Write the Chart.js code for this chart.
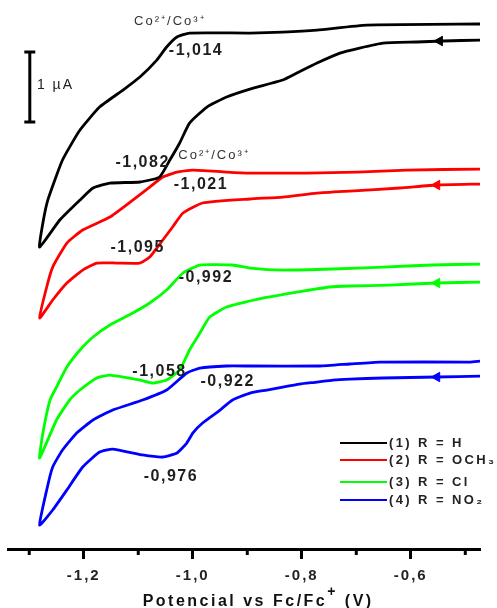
<!DOCTYPE html>
<html>
<head>
<meta charset="utf-8">
<script src="https://cdn.jsdelivr.net/npm/chart.js@4.4.1/dist/chart.umd.min.js"></script>
<style>
html,body{margin:0;padding:0;background:#fff;}
canvas{display:block;}
</style>
</head>
<body>
<canvas id="c" width="497" height="608"></canvas>
<script>
// ---- data (potential in V vs Fc/Fc+, current in µA, curves offset vertically) ----
const blackV = [-0.473,-0.541,-0.589,-0.651,-0.694,-0.730,-0.772,-0.809,-0.835,-0.895,-0.938,-0.974,-1.006,-1.024,-1.042,-1.061,-1.097,-1.152,-1.183,-1.207,-1.244,-1.281,-1.275,-1.266,-1.239,-1.207,-1.171,-1.128,-1.097,-1.066,-1.048,-1.029,-1.006,-0.895,-0.835,-0.772,-0.681,-0.473];
const blackI = [7.257,7.243,7.229,7.214,7.143,7.071,6.929,6.786,6.686,6.557,6.443,6.300,6.071,5.786,5.543,5.300,5.229,5.214,5.143,4.971,4.686,4.300,4.643,4.971,5.543,5.971,6.300,6.543,6.729,6.971,7.157,7.300,7.357,7.357,7.371,7.400,7.471,7.486];

const redV = [-0.473,-0.552,-0.620,-0.712,-0.772,-0.835,-0.895,-0.982,-1.018,-1.037,-1.055,-1.079,-1.097,-1.139,-1.176,-1.202,-1.231,-1.257,-1.281,-1.268,-1.257,-1.231,-1.202,-1.152,-1.110,-1.079,-1.055,-1.029,-1.000,-0.938,-0.895,-0.791,-0.699,-0.607,-0.473];
const redI = [5.200,5.186,5.143,5.100,5.071,5.014,4.986,4.929,4.786,4.586,4.400,4.157,4.071,4.071,4.071,3.971,3.786,3.543,3.286,3.729,4.014,4.357,4.543,4.729,4.971,5.157,5.300,5.371,5.400,5.371,5.357,5.357,5.371,5.400,5.414];

const greenV = [-0.473,-0.552,-0.639,-0.712,-0.749,-0.785,-0.828,-0.872,-0.895,-0.938,-0.969,-0.987,-1.006,-1.024,-1.048,-1.073,-1.097,-1.152,-1.176,-1.207,-1.226,-1.250,-1.281,-1.275,-1.262,-1.250,-1.231,-1.207,-1.183,-1.152,-1.110,-1.079,-1.048,-1.018,-0.987,-0.927,-0.895,-0.835,-0.743,-0.651,-0.560,-0.473];
const greenI = [3.800,3.786,3.757,3.743,3.729,3.686,3.629,3.571,3.529,3.443,3.300,3.071,2.829,2.543,2.400,2.357,2.400,2.471,2.429,2.257,2.114,1.829,1.286,1.643,2.114,2.300,2.586,2.829,3.014,3.186,3.357,3.500,3.686,3.929,4.043,4.043,4.000,3.971,3.986,4.014,4.043,4.057];

const blueV = [-0.473,-0.552,-0.651,-0.712,-0.743,-0.772,-0.804,-0.835,-0.864,-0.895,-0.927,-0.950,-0.982,-1.000,-1.011,-1.029,-1.055,-1.092,-1.147,-1.171,-1.202,-1.231,-1.257,-1.281,-1.268,-1.257,-1.239,-1.213,-1.183,-1.147,-1.092,-1.048,-1.011,-0.987,-0.938,-0.895,-0.767,-0.712,-0.657,-0.492,-0.473];
const blueI = [2.457,2.443,2.429,2.414,2.400,2.371,2.343,2.300,2.257,2.214,2.114,1.971,1.786,1.643,1.500,1.357,1.300,1.329,1.414,1.371,1.157,0.829,0.543,0.329,0.829,1.157,1.400,1.643,1.829,1.971,2.114,2.257,2.500,2.571,2.600,2.600,2.600,2.629,2.657,2.657,2.671];

const seriesLabels = ['(1) R = H', '(2) R = OCH\u2083', '(3) R = Cl', '(4) R = NO\u2082'];
const seriesColors = ['#000000', '#ff0000', '#00ff00', '#0000ff'];

// scan-direction arrows (on the starting branch of each curve)
const arrowV = [-0.547, -0.552, -0.552, -0.552];
const arrowI = [7.243, 5.186, 3.786, 2.443];

// 1 µA scale bar
const scaleBarV = [-1.299, -1.299];
const scaleBarI = [6.086, 7.086];

const majorTicks = [-1.2, -1.0, -0.8, -0.6];
const minorTicks = [-1.3, -1.1, -0.9, -0.7, -0.5];

// peak annotations [text, V, I]
const peakLabels = [
  ['-1,014', -0.994, 7.10],
  ['-1,082', -1.092, 5.50],
  ['-1,021', -0.985, 5.186],
  ['-1,095', -1.101, 4.286],
  ['-0,992', -0.976, 3.857],
  ['-1,058', -1.061, 2.514],
  ['-0,922', -0.936, 2.371],
  ['-0,976', -1.040, 1.014]
];
const coupleLabels = [
  ['Co\u00b2\u207a/Co\u00b3\u207a', -1.042, 7.529],
  ['Co\u00b2\u207a/Co\u00b3\u207a', -0.961, 5.614]
];
const scaleBarLabel = ['1 \u00b5A', -1.286, 6.614];
const xTitle = ['Potencial vs Fc/Fc', '+', ' (V)'];

// ---- build datasets ----
function pts(xs, ys) { return xs.map((x, i) => ({ x: x, y: ys[i] })); }
const curves = [[blackV, blackI], [redV, redI], [greenV, greenI], [blueV, blueI]];
const datasets = curves.map((c, k) => ({
  label: seriesLabels[k],
  data: pts(c[0], c[1]),
  showLine: true,
  borderColor: seriesColors[k],
  borderWidth: 2.8,
  pointRadius: 0,
  tension: 0.15,
  fill: false
}));
datasets.push({
  label: 'arrows',
  data: pts(arrowV, arrowI),
  showLine: false,
  pointStyle: 'triangle',
  rotation: -90,
  pointRadius: 5.5,
  backgroundColor: seriesColors,
  borderColor: seriesColors,
  borderWidth: 1
});
datasets.push({
  label: 'scalebar',
  data: pts(scaleBarV, scaleBarI),
  showLine: true,
  borderColor: '#000',
  borderWidth: 3,
  pointStyle: 'line',
  pointRadius: 5.5,
  pointBorderWidth: 3,
  pointBorderColor: '#000'
});

const decor = {
  id: 'decor',
  beforeDraw(chart) { chart.ctx.letterSpacing = '2px'; },
  beforeDatasetsDraw(chart) {
    const ctx = chart.ctx, xs = chart.scales.x;
    ctx.letterSpacing = '0px';
    ctx.save();
    ctx.strokeStyle = '#000';
    ctx.lineWidth = 3;
    minorTicks.forEach(v => {
      const p = xs.getPixelForValue(v);
      ctx.beginPath();
      ctx.moveTo(p, xs.top);
      ctx.lineTo(p, xs.top + 6);
      ctx.stroke();
    });
    ctx.restore();
  },
  afterDatasetsDraw(chart) {
    const ctx = chart.ctx, xs = chart.scales.x, ys = chart.scales.y;
    ctx.save();
    ctx.textAlign = 'center';
    ctx.textBaseline = 'middle';
    ctx.fillStyle = '#1e1e1e';
    ctx.font = 'bold 16px "Liberation Sans", Arial, sans-serif';
    ctx.letterSpacing = '1.5px';
    peakLabels.forEach(l => ctx.fillText(l[0], xs.getPixelForValue(l[1]), ys.getPixelForValue(l[2])));
    ctx.font = '13px "Liberation Sans", Arial, sans-serif';
    ctx.letterSpacing = '2px';
    ctx.fillStyle = '#333';
    coupleLabels.forEach(l => ctx.fillText(l[0], xs.getPixelForValue(l[1]), ys.getPixelForValue(l[2])));
    ctx.textAlign = 'left';
    ctx.font = '14px "Liberation Sans", Arial, sans-serif';
    ctx.fillStyle = '#222';
    ctx.fillText(scaleBarLabel[0], xs.getPixelForValue(scaleBarLabel[1]), ys.getPixelForValue(scaleBarLabel[2]));

    // legend
    const lx0 = chart.chartArea.right - 140, lx1 = chart.chartArea.right - 93;
    const legendY = [443, 460, 482, 500];
    ctx.font = 'bold 13px "Liberation Sans", Arial, sans-serif';
    ctx.letterSpacing = '2.4px';
    ctx.fillStyle = '#222';
    chart.data.datasets.slice(0, 4).forEach((d, i) => {
      ctx.strokeStyle = d.borderColor;
      ctx.lineWidth = 2;
      ctx.beginPath();
      ctx.moveTo(lx0, legendY[i]);
      ctx.lineTo(lx1, legendY[i]);
      ctx.stroke();
      ctx.fillText(d.label, lx1 + 2, legendY[i]);
    });

    // axis title with superscript
    ctx.font = 'bold 16px "Liberation Sans", Arial, sans-serif';
    ctx.letterSpacing = '2.5px';
    ctx.fillStyle = '#111';
    ctx.textBaseline = 'alphabetic';
    const w0 = ctx.measureText(xTitle[0]).width;
    const w2 = ctx.measureText(xTitle[2]).width;
    ctx.font = 'bold 14px "Liberation Sans", Arial, sans-serif';
    const w1 = ctx.measureText(xTitle[1]).width;
    const cx = xs.getPixelForValue(-0.88);
    let x = cx - (w0 + w1 + w2) / 2;
    const by = 606;
    ctx.font = 'bold 16px "Liberation Sans", Arial, sans-serif';
    ctx.fillText(xTitle[0], x, by); x += w0;
    ctx.font = 'bold 14px "Liberation Sans", Arial, sans-serif';
    ctx.fillText(xTitle[1], x, by - 10); x += w1;
    ctx.font = 'bold 16px "Liberation Sans", Arial, sans-serif';
    ctx.fillText(xTitle[2], x, by);
    ctx.restore();
  }
};

new Chart(document.getElementById('c'), {
  type: 'scatter',
  data: { datasets: datasets },
  options: {
    responsive: false,
    animation: false,
    layout: { autoPadding: false, padding: { left: 8, right: 17, top: 0, bottom: 0 } },
    plugins: { legend: { display: false }, tooltip: { enabled: false }, title: { display: false } },
    scales: {
      x: {
        type: 'linear',
        position: 'bottom',
        min: -1.339,
        max: -0.473,
        afterBuildTicks: s => { s.ticks = majorTicks.map(v => ({ value: v })); },
        afterFit: s => { s.height = 59; },
        grid: { drawOnChartArea: false, drawTicks: true, tickLength: 10, tickWidth: 3, tickColor: '#000' },
        border: { display: true, width: 3, color: '#000' },
        ticks: {
          autoSkip: false,
          maxRotation: 0,
          padding: 8,
          color: '#222',
          font: { family: '"Liberation Sans", Arial, sans-serif', size: 15, weight: 'bold' },
          callback: v => Number(v).toFixed(1).replace('.', ',')
        }
      },
      y: { display: false, min: -0.014, max: 7.829 }
    }
  },
  plugins: [decor]
});
</script>
</body>
</html>
